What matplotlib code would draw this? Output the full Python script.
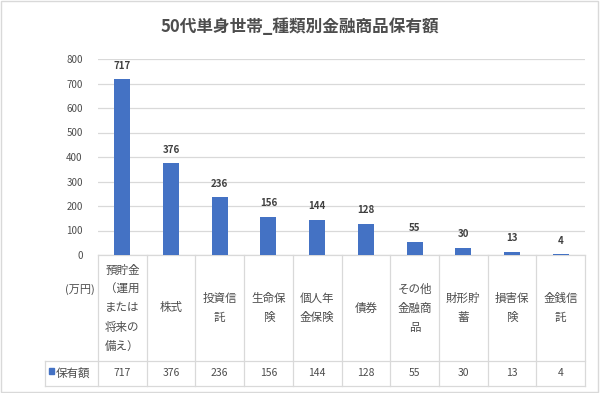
import matplotlib
matplotlib.use("Agg")
import matplotlib.pyplot as plt
from matplotlib import transforms
from matplotlib.lines import Line2D
from matplotlib.patches import Rectangle

plt.rcParams['font.family'] = ['Noto Sans CJK JP', 'DejaVu Sans']

title = '50代単身世帯_種類別金融商品保有額'
categories = ['預貯金\n（運用\nまたは\n将来の\n備え）', '株式', '投資信\n託', '生命保\n険',
              '個人年\n金保険', '債券', 'その他\n金融商\n品', '財形貯\n蓄', '損害保\n険', '金銭信\n託']
values = [717, 376, 236, 156, 144, 128, 55, 30, 13, 4]
series_name = '保有額'
unit = '(万円)'
yticks = [0, 100, 200, 300, 400, 500, 600, 700, 800]

BLUE = '#4472C4'
GRID = '#D9D9D9'
TEXT = '#4D4D4D'

W, H = 600, 393


def fy(py):
    return 1 - py / H


fig = plt.figure(figsize=(6, 3.93), dpi=100)
fig.patch.set_facecolor('white')
fig.add_artist(Rectangle((0.002, 0.003), 0.995, 0.994, transform=fig.transFigure,
                         fill=False, edgecolor=GRID, linewidth=1))

ax = fig.add_axes([98 / W, fy(255), (585 - 98) / W, (255 - 59) / H])
n = len(values)
xs = [i + 0.5 for i in range(n)]
ax.bar(xs, values, width=0.33, color=BLUE, zorder=3)
for x, v in zip(xs, values):
    ax.annotate(str(v), (x, v), xytext=(0, 6), textcoords='offset points',
                ha='center', va='bottom', fontsize=7, color='#404040', fontweight='bold')

ax.set_xlim(0, n)
ax.set_ylim(0, 800)
ax.set_yticks(yticks)
ax.set_yticklabels([str(t) for t in yticks], fontsize=7, color=TEXT)
ax.tick_params(axis='y', length=0, pad=11)
ax.set_xticks([])
ax.grid(axis='y', color=GRID, linewidth=0.9, zorder=0)
for s in ax.spines.values():
    s.set_visible(False)

fig.text(0.5, fy(27), title, ha='center', va='center', fontsize=12,
         color=TEXT, fontweight='bold')

# data table under the plot
tr = transforms.blended_transform_factory(ax.transData, fig.transFigure)
col_w = (585 - 98) / n
leg_x = -(98 - 45) / col_w
top, mid, bot = fy(255), fy(361), fy(386)


def line(x0, x1, y0, y1):
    ax.add_line(Line2D([x0, x1], [y0, y1], transform=tr, color=GRID,
                       linewidth=0.9, clip_on=False))


line(0, n, top, top)
line(leg_x, n, mid, mid)
line(leg_x, n, bot, bot)
line(leg_x, leg_x, mid, bot)
for i in range(n + 1):
    line(i, i, top, bot)

for x, c, v in zip(xs, categories, values):
    ax.text(x, (top + mid) / 2, c, transform=tr, ha='center', va='center',
            fontsize=8.3, color=TEXT, linespacing=1.6)
    ax.text(x, (mid + bot) / 2, str(v), transform=tr, ha='center', va='center',
            fontsize=7.5, color=TEXT)

ax.text(-0.07, fy(290), unit, transform=tr, ha='right', va='center',
        fontsize=8, color=TEXT)
ax.add_patch(Rectangle((leg_x + 0.08, (mid + bot) / 2 - 0.002), 0.1, 0.016,
                       transform=tr, color=BLUE, clip_on=False))
ax.text(leg_x + 0.22, (mid + bot) / 2, series_name, transform=tr, ha='left',
        va='center', fontsize=8.3, color=TEXT)

fig.savefig('out.png', dpi=100)
